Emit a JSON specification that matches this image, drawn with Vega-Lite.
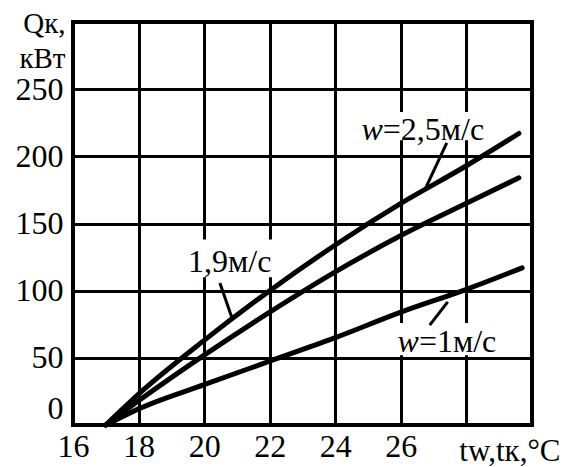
{
  "$schema": "https://vega.github.io/schema/vega-lite/v6.json",
  "width": 459,
  "height": 403,
  "autosize": {"type": "none"},
  "padding": {"left": 73, "top": 22, "right": 32, "bottom": 42},
  "background": "white",
  "config": {
    "view": {"stroke": "black", "strokeWidth": 4},
    "font": "Times New Roman, Liberation Serif, serif",
    "axis": {
      "domain": false,
      "ticks": false,
      "gridColor": "black",
      "gridOpacity": 1,
      "gridWidth": 3,
      "labelFont": "Times New Roman, Liberation Serif, serif",
      "labelFontSize": 32,
      "labelColor": "black",
      "titleFont": "Times New Roman, Liberation Serif, serif",
      "titleFontWeight": "normal",
      "titleColor": "black"
    }
  },
  "datasets": {
    "curves": [
      {"w": "2.5", "t": 17, "q": 0}, {"w": "2.5", "t": 18, "q": 23}, {"w": "2.5", "t": 20, "q": 63}, {"w": "2.5", "t": 22, "q": 100}, {"w": "2.5", "t": 24, "q": 134}, {"w": "2.5", "t": 26, "q": 165}, {"w": "2.5", "t": 28, "q": 193}, {"w": "2.5", "t": 29.6, "q": 217},
      {"w": "1.9", "t": 17, "q": 0}, {"w": "1.9", "t": 18, "q": 18}, {"w": "1.9", "t": 20, "q": 52}, {"w": "1.9", "t": 22, "q": 84}, {"w": "1.9", "t": 24, "q": 114}, {"w": "1.9", "t": 26, "q": 141}, {"w": "1.9", "t": 28, "q": 165}, {"w": "1.9", "t": 29.6, "q": 184},
      {"w": "1", "t": 17, "q": 0}, {"w": "1", "t": 18, "q": 12}, {"w": "1", "t": 20, "q": 30}, {"w": "1", "t": 22, "q": 47.5}, {"w": "1", "t": 24, "q": 65}, {"w": "1", "t": 26, "q": 84}, {"w": "1", "t": 28, "q": 101}, {"w": "1", "t": 29.7, "q": 117}
    ],
    "leaders": [
      {"t": 27.4, "q": 210, "t2": 26.73, "q2": 175},
      {"t": 20.48, "q": 105.7, "t2": 20.85, "q2": 79.7},
      {"t": 27.43, "q": 91.6, "t2": 26.88, "q2": 74.4}
    ],
    "labels": [
      {"t": 25.45, "q": 212.2, "pre": "w", "txt": "=2,5м/с"},
      {"t": 19.51, "q": 113.9, "pre": "", "txt": "1,9м/с"},
      {"t": 26.55, "q": 54.3, "pre": "w", "txt": "=1м/с"}
    ],
    "boxes": [
      {"t": 24.6, "t2": 29.1, "q": 212, "q2": 233},
      {"t": 19.45, "t2": 22.3, "q": 110, "q2": 138},
      {"t": 25.9, "t2": 29.4, "q": 52, "q2": 76}
    ]
  },
  "encoding": {
    "x": {
      "field": "t",
      "type": "quantitative",
      "scale": {"domain": [16, 30], "nice": false, "zero": false},
      "axis": {
        "values": [16, 18, 20, 22, 24, 26, 28, 30],
        "labelExpr": "datum.value >= 28 ? '' : datum.label",
        "labelFlush": false,
        "labelPadding": 6,
        "title": "tw,tк,°C",
        "titleX": 487,
        "titleY": 35,
        "titleAlign": "right",
        "titleBaseline": "alphabetic",
        "titleFontSize": 31
      }
    },
    "y": {
      "field": "q",
      "type": "quantitative",
      "scale": {"domain": [0, 300], "nice": false},
      "axis": {
        "values": [0, 50, 100, 150, 200, 250, 300],
        "labelExpr": "datum.value == 300 ? '' : datum.label",
        "labelFlush": true,
        "labelPadding": 10,
        "title": ["Qк,", "кВт"],
        "titleAngle": 0,
        "titleAlign": "right",
        "titleBaseline": "alphabetic",
        "titleX": -8,
        "titleY": 10,
        "titleFontSize": 29,
        "titleLineHeight": 35
      }
    }
  },
  "layer": [
    {
      "data": {"name": "boxes"},
      "mark": {"type": "rect", "fill": "white"},
      "encoding": {"x2": {"field": "t2"}, "y2": {"field": "q2"}}
    },
    {
      "data": {"name": "curves"},
      "mark": {"type": "line", "color": "black", "strokeWidth": 5, "interpolate": "monotone", "strokeCap": "round"},
      "encoding": {"detail": {"field": "w"}}
    },
    {
      "data": {"name": "leaders"},
      "mark": {"type": "rule", "color": "black", "strokeWidth": 3},
      "encoding": {"x2": {"field": "t2"}, "y2": {"field": "q2"}}
    },
    {
      "data": {"name": "labels"},
      "mark": {"type": "text", "align": "right", "baseline": "alphabetic", "fontSize": 32, "fontStyle": "italic", "font": "Times New Roman, Liberation Serif, serif", "color": "black"},
      "encoding": {"text": {"field": "pre"}}
    },
    {
      "data": {"name": "labels"},
      "mark": {"type": "text", "align": "left", "baseline": "alphabetic", "fontSize": 32, "font": "Times New Roman, Liberation Serif, serif", "color": "black"},
      "encoding": {"text": {"field": "txt"}}
    }
  ]
}
